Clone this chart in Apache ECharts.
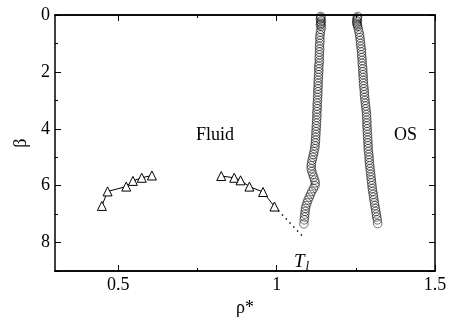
<!DOCTYPE html>
<html>
<head>
<meta charset="utf-8">
<script src="https://cdn.jsdelivr.net/npm/echarts@6/dist/echarts.min.js"></script>
<style>html,body{margin:0;padding:0;background:#fff}#c{width:454px;height:322px}</style>
</head>
<body>
<div id="c"></div>
<script>
// ---- data ----
const xTickLabels = [0.5, 1, 1.5];
const xMinorTicks = [0.75, 1.25];
const yTicks = [0, 2, 4, 6, 8];

// fluid coexistence branches (triangles)
const gasRho  = [0.448, 0.466, 0.525, 0.546, 0.574, 0.606];
const gasBeta = [6.71, 6.20, 6.03, 5.83, 5.72, 5.64];
const liqRho  = [0.825, 0.866, 0.886, 0.914, 0.957, 0.993];
const liqBeta = [5.66, 5.72, 5.81, 6.03, 6.22, 6.73];

// dotted extrapolation to triple point
const dotRho  = [0.993, 1.088];
const dotBeta = [6.73, 7.85];

// fluid-solid boundary (left circle branch)
const fsBeta = [0.05,0.10,0.15,0.20,0.25,0.30,0.35,0.40,0.50,0.60,0.70,0.80,0.90,1.00,1.10,1.20,1.30,1.40,1.50,1.60,1.70,1.80,1.90,2.00,2.10,2.20,2.30,2.40,2.50,2.60,2.70,2.80,2.90,3.00,3.10,3.20,3.30,3.40,3.50,3.60,3.70,3.80,3.90,4.00,4.10,4.20,4.30,4.40,4.50,4.60,4.70,4.80,4.90,5.00,5.10,5.20,5.30,5.40,5.50,5.60,5.70,5.80,5.90,6.00,6.10,6.20,6.30,6.40,6.50,6.60,6.70,6.80,6.90,7.00,7.10,7.20,7.34];
const fsRho  = [1.139,1.140,1.138,1.141,1.139,1.140,1.138,1.141,1.140,1.138,1.137,1.136,1.137,1.136,1.135,1.136,1.135,1.135,1.134,1.135,1.134,1.133,1.133,1.133,1.132,1.132,1.131,1.131,1.131,1.130,1.130,1.130,1.129,1.129,1.128,1.128,1.128,1.127,1.127,1.127,1.126,1.126,1.125,1.125,1.124,1.124,1.123,1.123,1.122,1.121,1.120,1.118,1.116,1.114,1.112,1.110,1.109,1.109,1.111,1.114,1.117,1.120,1.122,1.121,1.116,1.111,1.107,1.103,1.099,1.096,1.093,1.091,1.090,1.089,1.088,1.087,1.086];

// solid-solid (OS) boundary (right circle branch)
const ssBeta = [0.05,0.10,0.15,0.20,0.25,0.30,0.35,0.40,0.50,0.60,0.70,0.80,0.90,1.00,1.10,1.20,1.30,1.40,1.50,1.60,1.70,1.80,1.90,2.00,2.10,2.20,2.30,2.40,2.50,2.60,2.70,2.80,2.90,3.00,3.10,3.20,3.30,3.40,3.50,3.60,3.70,3.80,3.90,4.00,4.10,4.20,4.30,4.40,4.50,4.60,4.70,4.80,4.90,5.00,5.10,5.20,5.30,5.40,5.50,5.60,5.70,5.80,5.90,6.00,6.10,6.20,6.30,6.40,6.50,6.60,6.70,6.80,6.90,7.00,7.10,7.20,7.33];
const ssRho  = [1.256,1.254,1.255,1.253,1.254,1.253,1.255,1.256,1.258,1.260,1.262,1.263,1.264,1.265,1.266,1.267,1.268,1.268,1.269,1.270,1.270,1.271,1.272,1.272,1.273,1.273,1.274,1.274,1.275,1.276,1.277,1.277,1.278,1.279,1.280,1.281,1.282,1.283,1.284,1.284,1.285,1.285,1.285,1.286,1.286,1.287,1.287,1.288,1.288,1.289,1.289,1.290,1.291,1.292,1.292,1.293,1.294,1.295,1.296,1.297,1.298,1.299,1.300,1.301,1.302,1.303,1.305,1.306,1.307,1.309,1.310,1.312,1.313,1.315,1.316,1.318,1.319];

const zip = (a, b) => a.map((v, i) => [v, b[i]]);

const FONT = '"Liberation Serif","Times New Roman",serif';

const chart = echarts.init(document.getElementById('c'), null, { renderer: 'canvas' });

function xAx(pos, ticks, len, labels) {
  return {
    type: 'value', position: pos, min: 0.3, max: 1.5,
    axisLine: { show: true, onZero: false, lineStyle: { color: '#000', width: 1.5 } },
    axisTick: { show: true, inside: true, length: len, customValues: ticks, lineStyle: { color: '#000', width: 1 } },
    axisLabel: labels ? { show: true, customValues: xTickLabels, color: '#000', fontFamily: FONT, fontSize: 18, margin: 5,
      formatter: v => String(v) } : { show: false },
    splitLine: { show: false },
    name: labels ? 'ρ*' : '', nameLocation: 'middle', nameGap: 27,
    nameTextStyle: { color: '#000', fontFamily: FONT, fontSize: 18 }
  };
}
function yAx(pos, labels) {
  return {
    type: 'value', position: pos, min: 0, max: 9, interval: 2, inverse: true,
    axisLine: { show: true, onZero: false, lineStyle: { color: '#000', width: 1.5 } },
    axisTick: { show: true, inside: true, length: 6, lineStyle: { color: '#000', width: 1 } },
    minorTick: { show: true, splitNumber: 2, length: 3, lineStyle: { color: '#000', width: 1 } },
    axisLabel: labels ? { show: true, color: '#000', fontFamily: FONT, fontSize: 18, margin: 5,
      formatter: v => yTicks.includes(v) ? String(v) : '' } : { show: false },
    splitLine: { show: false },
    name: labels ? 'β' : '', nameLocation: 'middle', nameGap: 25, nameRotate: 90,
    nameTextStyle: { color: '#000', fontFamily: FONT, fontSize: 18 }
  };
}

const option = {
  backgroundColor: '#fff',
  animation: false,
  grid: { left: 55, right: 19, top: 15, bottom: 41, containLabel: false },
  xAxis: [
    xAx('bottom', xTickLabels, 6, true),
    xAx('top', xTickLabels, 6, false),
    xAx('bottom', xMinorTicks, 3, false),
    xAx('top', xMinorTicks, 3, false)
  ],
  yAxis: [ yAx('left', true), yAx('right', false) ],
  series: [
    { type: 'line', data: zip(gasRho, gasBeta), symbol: 'triangle', symbolSize: 9,
      lineStyle: { color: '#000', width: 1 }, itemStyle: { color: '#fff', borderColor: '#000', borderWidth: 1 } },
    { type: 'line', data: zip(liqRho, liqBeta), symbol: 'triangle', symbolSize: 9,
      lineStyle: { color: '#000', width: 1 }, itemStyle: { color: '#fff', borderColor: '#000', borderWidth: 1 } },
    { type: 'line', data: zip(dotRho, dotBeta), symbol: 'none',
      lineStyle: { color: '#000', width: 1.5, type: [1.5, 4] } },
    { type: 'scatter', data: zip(fsRho, fsBeta), symbol: 'circle', symbolSize: 8.5, clip: false,
      itemStyle: { color: 'rgba(255,255,255,0)', borderColor: '#000', borderWidth: 0.7 } },
    { type: 'scatter', data: zip(ssRho, ssBeta), symbol: 'circle', symbolSize: 8.5, clip: false,
      itemStyle: { color: 'rgba(255,255,255,0)', borderColor: '#000', borderWidth: 0.7 } }
  ],
  graphic: [
    { type: 'text', left: 196, top: 126, style: { text: 'Fluid', fill: '#000', font: '18px ' + FONT } },
    { type: 'text', left: 394, top: 126, style: { text: 'OS', fill: '#000', font: '18px ' + FONT } },
    { type: 'text', left: 294, top: 252, style: { text: '{t|T}{s|l}', fill: '#000',
      rich: { t: { fontFamily: FONT, fontStyle: 'italic', fontSize: 19, fill: '#000' },
              s: { fontFamily: FONT, fontStyle: 'italic', fontSize: 13, fill: '#000', padding: [11, 0, 0, 1] } } } }
  ]
};
chart.setOption(option);
</script>
</body>
</html>
